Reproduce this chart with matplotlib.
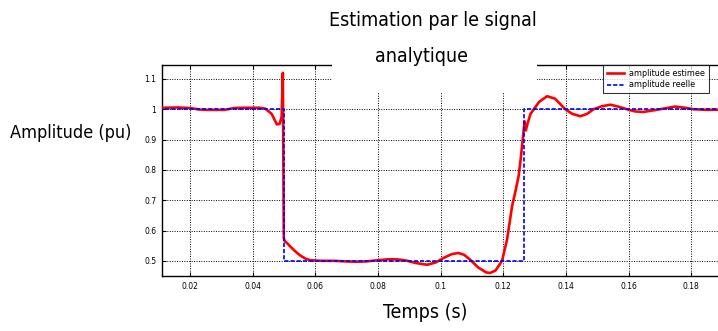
import matplotlib
matplotlib.use('Agg')
import matplotlib.pyplot as plt
from matplotlib.patches import Rectangle

# amplitude reelle (echelon)
t_reel = [0.0, 0.05, 0.05, 0.1265, 0.1265, 0.20]
a_reel = [1.0, 1.0, 0.5, 0.5, 1.0, 1.0]

# amplitude estimee
t_est = [0.011, 0.016, 0.020, 0.023, 0.026, 0.031, 0.034, 0.037, 0.042, 0.044,
         0.046, 0.0477, 0.0486, 0.0492, 0.0496, 0.0499, 0.0502, 0.0510, 0.0519,
         0.0535, 0.0551, 0.0567, 0.0583, 0.062, 0.066, 0.070, 0.073, 0.076,
         0.080, 0.083, 0.086, 0.089, 0.092, 0.0957, 0.0985, 0.1010, 0.1035,
         0.1056, 0.1075, 0.1095, 0.1120, 0.1145, 0.1158, 0.1175, 0.1196,
         0.1212, 0.1228, 0.1240, 0.1249, 0.1256, 0.1262, 0.1268, 0.1272,
         0.1278, 0.1287, 0.1296, 0.1315, 0.1340, 0.1365, 0.1398, 0.1420,
         0.1446, 0.1468, 0.1488, 0.1515, 0.1542, 0.1570, 0.1595, 0.1620,
         0.1647, 0.1700, 0.1749, 0.1780, 0.1808, 0.1850, 0.1900]
a_est = [1.005, 1.006, 1.004, 0.999, 0.998, 0.998, 1.004, 1.005, 1.005, 1.002,
         0.985, 0.950, 0.952, 0.975, 1.120, 0.575, 0.565, 0.558, 0.548,
         0.532, 0.518, 0.508, 0.502, 0.500, 0.500, 0.498, 0.497, 0.498,
         0.502, 0.505, 0.505, 0.501, 0.493, 0.487, 0.495, 0.510, 0.522,
         0.526, 0.520, 0.503, 0.478, 0.462, 0.460, 0.468, 0.500,
         0.570, 0.680, 0.735, 0.780, 0.840, 0.900, 0.960, 0.930,
         0.955, 0.985, 0.998, 1.025, 1.043, 1.035, 1.000, 0.985,
         0.977, 0.985, 1.000, 1.010, 1.015, 1.008, 1.000, 0.993,
         0.991, 1.000, 1.009, 1.005, 1.000, 0.998, 0.999]

# police etroite pour les titres (comme l'original)
style_txt = dict(family='DejaVu Sans', stretch='condensed', zorder=6)

fig = plt.figure(figsize=(7.18, 3.31), dpi=100)
ax = fig.add_axes([162/718, 1-276/331, 573/718, 211/331])

ax.plot(t_est, a_est, color='red', lw=1.9, label='amplitude estimee', zorder=3)
ax.plot(t_reel, a_reel, color='blue', lw=1.2, ls=(0, (2.5, 1.2)),
        label='amplitude reelle', zorder=4)

ax.set_xlim(0.011, 0.194)
ax.set_ylim(0.45, 1.146)
ax.set_xticks([0.02, 0.04, 0.06, 0.08, 0.1, 0.12, 0.14, 0.16, 0.18])
ax.set_xticklabels(['0.02', '0.04', '0.06', '0.08', '0.1', '0.12', '0.14', '0.16', '0.18'])
ax.set_yticks([0.5, 0.6, 0.7, 0.8, 0.9, 1.0, 1.1])
ax.set_yticklabels(['0.5', '0.6', '0.7', '0.8', '0.9', '1', '1.1'])
ax.tick_params(direction='in', top=True, right=True, labelsize=5.5, length=3, pad=4)
ax.grid(color='black', ls=(0, (1, 1.5)), lw=0.7)
for s in ax.spines.values():
    s.set_linewidth(1.0)

leg = ax.legend(loc='upper left', bbox_to_anchor=(603/718, 1-65/331),
                bbox_transform=fig.transFigure, fontsize=5.8, frameon=True,
                fancybox=False, handlelength=2.2, handletextpad=0.6,
                borderpad=0.45, labelspacing=0.35, borderaxespad=0)
leg.get_frame().set_edgecolor('black')
leg.get_frame().set_linewidth(0.8)

# cache blanc derriere le titre (coupe le cadre du haut)
fig.patches.append(Rectangle((332/718, 1-92/331), 205/718, 92/331,
                             transform=fig.transFigure, facecolor='white',
                             edgecolor='none', zorder=5))

fig.text(433/718, 1-21/331, 'Estimation par le signal', ha='center', va='center',
         fontsize=14, **style_txt)
fig.text(421/718, 1-57/331, 'analytique', ha='center', va='center',
         fontsize=14, **style_txt)
fig.text(10/718, 1-133/331, 'Amplitude (pu)', ha='left', va='center',
         fontsize=13, **style_txt)
fig.text(425/718, 1-313/331, 'Temps (s)', ha='center', va='center',
         fontsize=14, **style_txt)

fig.savefig('out.png', dpi=100)
